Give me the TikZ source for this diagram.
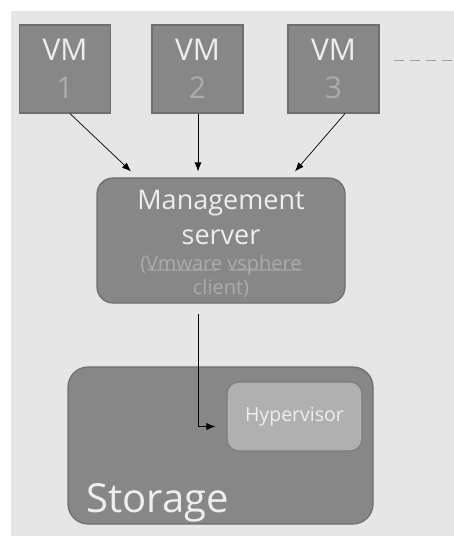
\documentclass[tikz,border=0pt]{standalone}
\usepackage{fontspec}
\setmainfont{Open Sans}
\usetikzlibrary{positioning,arrows.meta,calc,decorations.pathmorphing}
\definecolor{backgr}{RGB}{230,230,230}
\definecolor{boxgray}{RGB}{135,135,135}
\definecolor{boxline}{RGB}{110,110,110}
\definecolor{lightbox}{RGB}{176,176,176}
\definecolor{paletext}{RGB}{238,238,238}
\definecolor{dimtext}{RGB}{172,172,172}

\begin{document}
\begin{tikzpicture}[x=1pt,y=-1pt,>={Latex[length=9pt,width=7pt]},
    vmbox/.style={draw=boxline,line width=1.2pt,fill=boxgray,minimum width=91pt,minimum height=88pt,inner sep=0pt,align=center,text=paletext,font=\fontsize{30}{38}\selectfont},
    roundbox/.style={draw=boxline,line width=1.2pt,fill=boxgray,rounded corners=16pt,inner sep=0pt,align=center},
    link/.style={->,line width=0.7pt},
    squiggle/.style={dimtext,line width=0.6pt,decorate,decoration={snake,amplitude=0.8pt,segment length=3pt}}]
    \useasboundingbox (0,0) rectangle (454,536);
    \fill[backgr] (11,11) rectangle (454,536);
    % virtual machines
    \node[vmbox] (vmone) at (65,69) {VM\\\textcolor{dimtext}{1}};
    \node[vmbox] (vmtwo) at (197.5,69) {VM\\\textcolor{dimtext}{2}};
    \node[vmbox] (vmthree) at (333.5,69) {VM\\\textcolor{dimtext}{3}};
    \draw[gray!75,dashed,dash pattern=on 10pt off 6pt,line width=0.8pt] ([xshift=14pt,yshift=9pt]vmthree.east) -- ++(61,0);
    % server
    \node[roundbox,minimum width=248pt,minimum height=125pt,text=paletext,font=\fontsize{20}{24}\selectfont] (mgmt) at (221,240.5)
      {\rule{0pt}{26pt}{\fontsize{27}{24}\selectfont Management}\\[11pt]
       {\fontsize{27}{24}\selectfont server}\\[2pt]
       \textcolor{dimtext}{(Vmware vsphere}\\
       \textcolor{dimtext}{client)}};
    \draw[squiggle] ($(mgmt.center)+(-74,29.5)$) -- ++(71,0);
    \draw[squiggle] ($(mgmt.center)+(7,29.5)$) -- ++(75,0);
    % storage
    \node[roundbox,minimum width=305pt,minimum height=157pt,rounded corners=20pt] (storage) at (220.5,445.5) {};
    \node[roundbox,fill=lightbox,draw=boxline!90,minimum width=135pt,minimum height=69pt,rounded corners=12pt,text=paletext,font=\fontsize{19.5}{23}\selectfont] (hyper) at (294.5,416.5) {Hypervisor};
    \node[anchor=base west,inner sep=0pt,text=paletext,font=\fontsize{40}{48}\selectfont] (storelabel) at ([xshift=19pt,yshift=12pt]storage.south west) {Storage};
    \draw[link] ([xshift=5pt]vmone.south) -- ([xshift=-90pt,yshift=6pt]mgmt.north);
    \draw[link] ([xshift=0.5pt]vmtwo.south) -- ([xshift=-23pt,yshift=6pt]mgmt.north);
    \draw[link] ([xshift=11.5pt]vmthree.south) -- ([xshift=74pt,yshift=6pt]mgmt.north);
    \draw[link] ([xshift=-23pt,yshift=-10pt]mgmt.south) |- ([xshift=-11pt,yshift=-10pt]hyper.west);
\end{tikzpicture}
\end{document}
